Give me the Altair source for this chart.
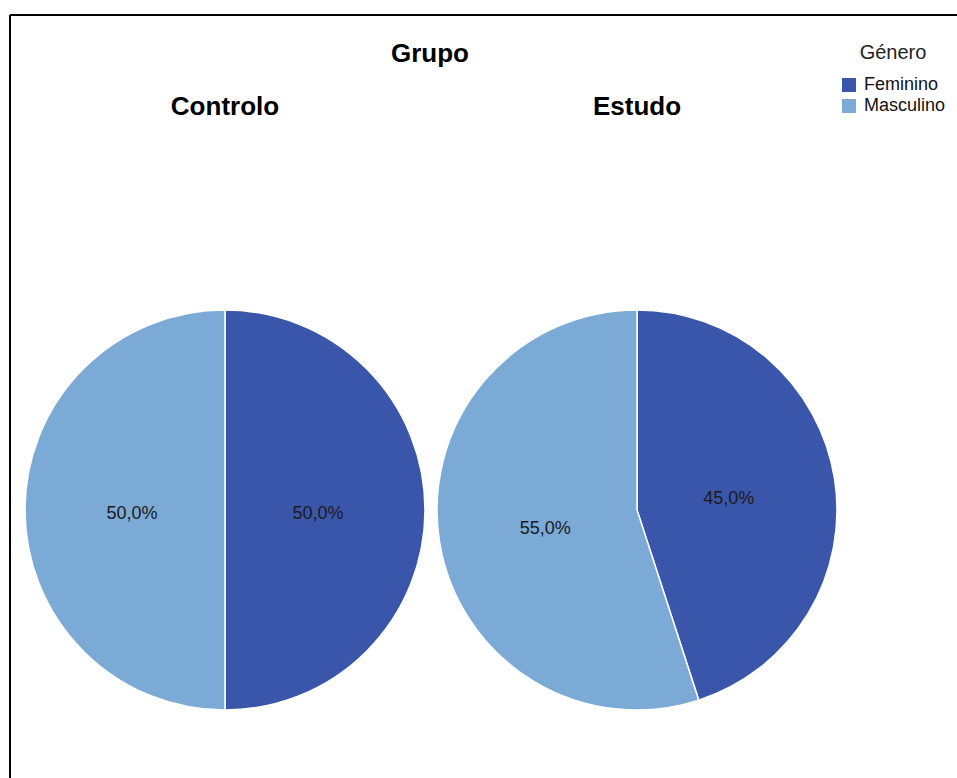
import altair as alt
import pandas as pd

# ---- data ----
grupos = ["Controlo", "Controlo", "Estudo", "Estudo"]
generos = ["Feminino", "Masculino", "Feminino", "Masculino"]
percentagens = [50.0, 50.0, 45.0, 55.0]
paineis = ["Controlo", "Estudo"]
categorias = ["Feminino", "Masculino"]
cores = ["#3A56AA", "#7CAAD6"]

df = pd.DataFrame({"Grupo": grupos, "Género": generos, "pct": percentagens})
df_paineis = pd.DataFrame({"Grupo": paineis})

W, H = 947, 763
FONT = "Liberation Sans"
CY = 495
R = 200

xscale = alt.Scale(type="point", domain=paineis, range=[215, 627], padding=0)
tscale = alt.Scale(domain=[0, 1], range=[0, 6.283185307179586])

base = alt.Chart(df).transform_stack(
    stack="pct",
    as_=["t0", "t1"],
    groupby=["Grupo"],
    sort=[alt.SortField("Género", order="ascending")],
    offset="normalize",
).transform_calculate(
    tm="(datum.t0 + datum.t1) / 2",
    label="replace(format(datum.pct, '.1f'), '.', ',') + '%'",
)

arcs = base.mark_arc(stroke="white", strokeWidth=1.5).encode(
    x=alt.X("Grupo:N", scale=xscale, axis=None),
    y=alt.value(CY),
    theta=alt.Theta("t0:Q", scale=tscale, stack=None),
    theta2="t1:Q",
    radius=alt.value(R),
    color=alt.Color(
        "Género:N",
        scale=alt.Scale(domain=categorias, range=cores),
        legend=alt.Legend(
            title="Género",
            orient="none",
            legendX=830,
            legendY=28,
            titleFont=FONT,
            titleFontSize=20,
            titleFontWeight="normal",
            titleColor="#222222",
            titleAnchor="middle",
            titlePadding=13,
            labelFont=FONT,
            labelFontSize=18,
            labelColor="#111111",
            symbolType="square",
            symbolSize=196,
            symbolStrokeWidth=0,
            rowPadding=3,
            labelOffset=6,
            padding=0,
        ),
    ),
)

labels = base.mark_text(font=FONT, fontSize=18, color="#1a1a1a", dy=4).encode(
    x=alt.X("Grupo:N", scale=xscale, axis=None),
    y=alt.value(CY),
    theta=alt.Theta("tm:Q", scale=tscale, stack=None),
    radius=alt.value(93),
    text="label:N",
)

panel_titles = alt.Chart(df_paineis).mark_text(
    font=FONT, fontSize=26, fontWeight="bold", color="black", baseline="alphabetic"
).encode(
    x=alt.X("Grupo:N", scale=xscale, axis=None),
    y=alt.value(100),
    text="Grupo:N",
)

main_title = alt.Chart(pd.DataFrame({"t": ["Grupo"]})).mark_text(
    font=FONT, fontSize=26, fontWeight="bold", color="black", baseline="alphabetic"
).encode(x=alt.value(420), y=alt.value(47), text="t:N")

frame_top = alt.Chart(pd.DataFrame({"a": [0]})).mark_rule(color="black", strokeWidth=2).encode(
    x=alt.value(0), x2=alt.value(W + 5), y=alt.value(0)
)
frame_left = alt.Chart(pd.DataFrame({"a": [0]})).mark_rule(color="black", strokeWidth=2).encode(
    x=alt.value(0), y=alt.value(0), y2=alt.value(H + 5)
)

chart = (
    alt.layer(frame_top, frame_left, arcs, labels, panel_titles, main_title)
    .properties(
        width=W,
        height=H,
        autosize=alt.AutoSizeParams(type="none"),
        padding={"left": 10, "top": 15, "right": 0, "bottom": 0},
        background="white",
    )
    .configure_view(stroke=None)
)

chart.save("out.html", embed_options={"renderer": "svg", "actions": False})
